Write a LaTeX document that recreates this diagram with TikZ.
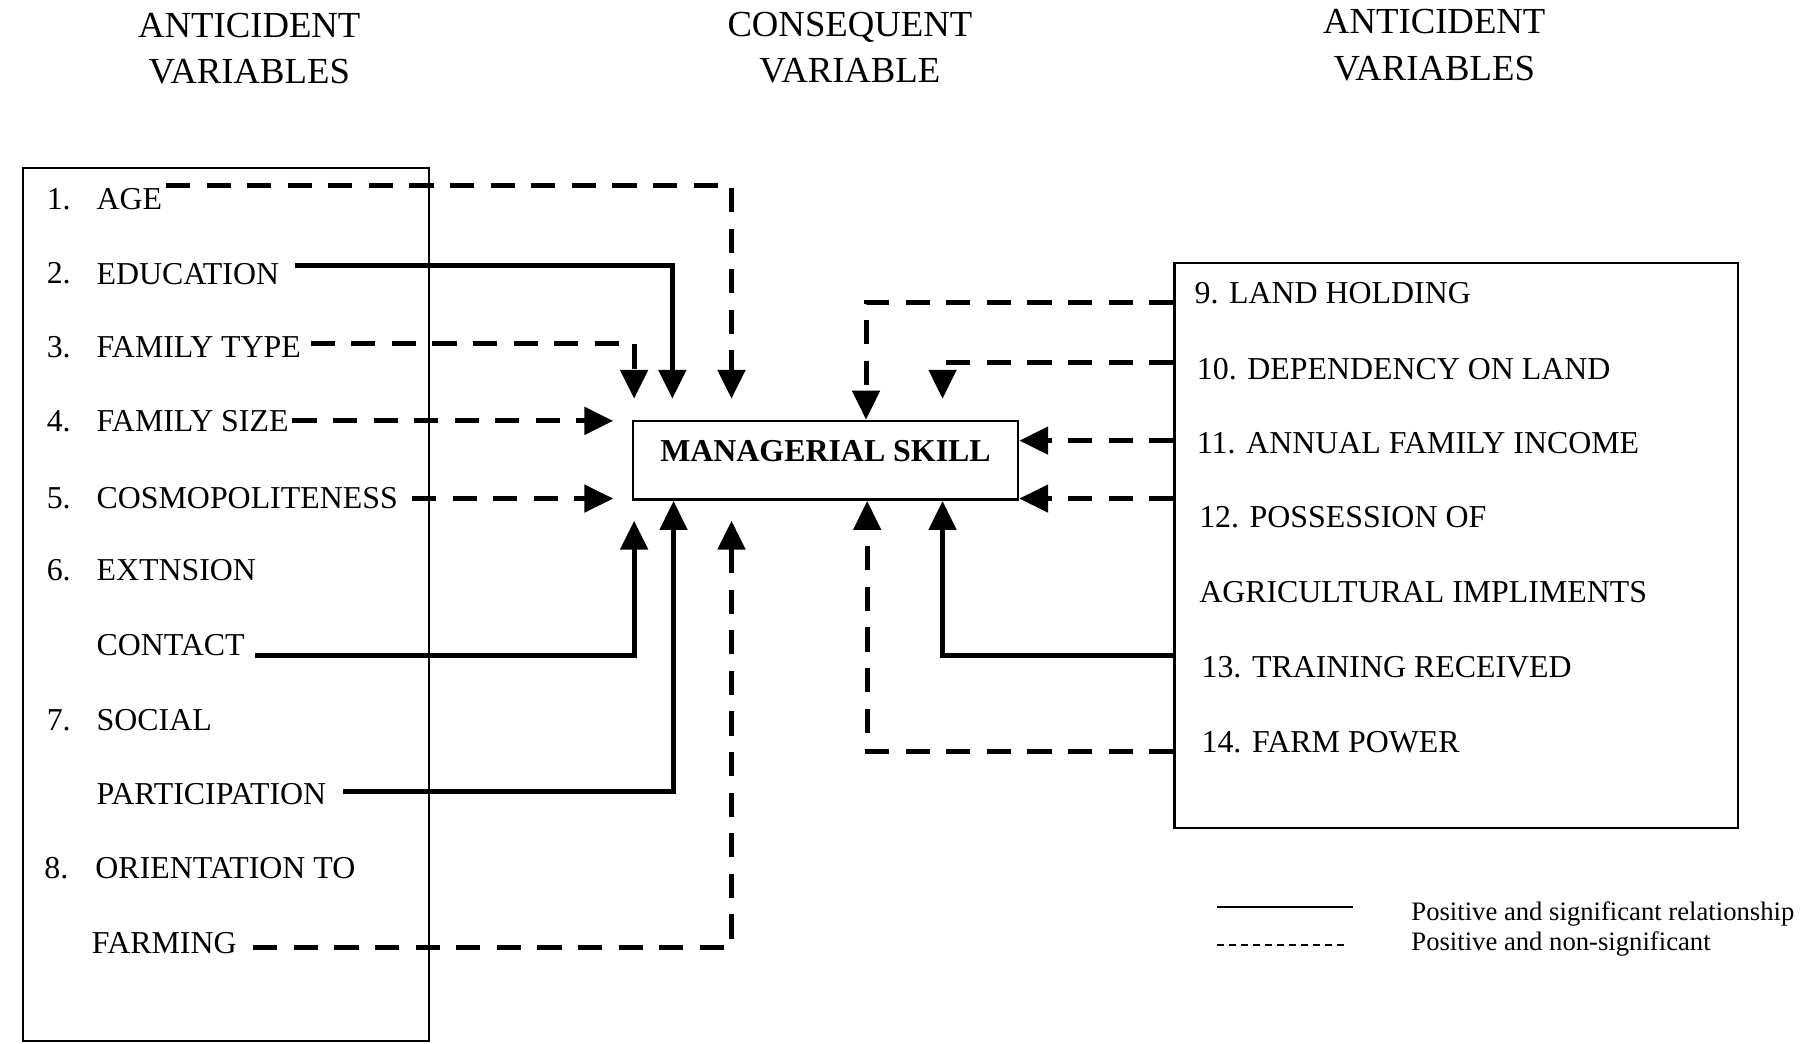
\documentclass[tikz,border=0pt]{standalone}
\usepackage{fontspec}
\setmainfont{Liberation Serif}
\usetikzlibrary{arrows.meta,calc}

\tikzset{
  item/.style={anchor=west, inner sep=0pt, font=\fontsize{16.5}{20}\selectfont},
  heading/.style={align=center, inner sep=0pt, font=\fontsize{19}{24}\selectfont},
  legendtext/.style={anchor=west, inner sep=0pt, font=\fontsize{13.8}{16}\selectfont},
  panel/.style={draw, line width=1pt, inner sep=0pt},
  skillbox/.style={draw, line width=1.3pt, minimum width=199.2pt, minimum height=40.8pt,
    text height=11pt, text depth=9.6pt, font=\bfseries\fontsize{16.5}{20}\selectfont},
  sig/.style={line width=2.6pt, -{Triangle[length=15pt,width=14pt]}},
  nonsig/.style={sig, dash pattern=on 12.5pt off 8.5pt},
}

\begin{document}
\begin{tikzpicture}[x=0.6pt, y=-0.6pt]
      \useasboundingbox (0,0) rectangle (1568,900);

      % headings
      \node[heading] (hleft) at (215,42) {ANTICIDENT\\VARIABLES};
      \node[heading] (hmid) at (733,41) {CONSEQUENT\\VARIABLE};
      \node[heading] (hright) at (1237,39) {ANTICIDENT\\VARIABLES};

      % panels
      \node[
        panel,
        minimum width=210pt,
        minimum height=451.8pt
        ] (lpanel) at (195,521.5) {};

      \node[
        panel,
        line width=1.3pt,
        minimum width=291.6pt,
        minimum height=292.2pt
        ] (rpanel) at (1256,470.5) {};

      \node[skillbox] (ms) at (712,397) {MANAGERIAL SKILL};

      % left variables
      \node[item] (n1) at (40,172) {1.};
      \node[item] (age) at (83,172) {AGE};
      \node[item] (n2) at (40,236) {2.};
      \node[item] (edu) at (83,236) {EDUCATION};
      \node[item] (n3) at (40,299) {3.};
      \node[item] (ftype) at (83,299) {FAMILY TYPE};
      \node[item] (n4) at (40,363) {4.};
      \node[item] (fsize) at (83,363) {FAMILY SIZE};
      \node[item] (n5) at (40,430) {5.};
      \node[item] (cosmo) at (83,430) {COSMOPOLITENESS};
      \node[item] (n6) at (40,492) {6.};
      \node[item] (extn) at (83,492) {EXTNSION};
      \node[item] (contact) at (83,556) {CONTACT};
      \node[item] (n7) at (40,621) {7.};
      \node[item] (social) at (83,621) {SOCIAL};
      \node[item] (partic) at (83,685) {PARTICIPATION};
      \node[item] (n8) at (38,749) {8.};
      \node[item] (orient) at (82,749) {ORIENTATION TO};
      \node[item] (farming) at (79,813) {FARMING};

      % right variables
      \node[item] (land) at (1030,253) {9. LAND HOLDING};
      \node[item] (dep) at (1032,318) {10. DEPENDENCY ON LAND};
      \node[item] (inc) at (1032,382) {11. ANNUAL FAMILY INCOME};
      \node[item] (poss) at (1034,446) {12. POSSESSION OF};
      \node[item] (agri) at (1034,511) {AGRICULTURAL IMPLIMENTS};
      \node[item] (train) at (1036,575) {13. TRAINING RECEIVED};
      \node[item] (fpow) at (1036,640) {14. FARM POWER};

      % left links
      \draw[nonsig] ($(age.east)+(3,-12)$) -| ($(ms.north west)+(86,-18)$);
      \draw[sig] ($(edu.east)+(13,-7)$) -| ($(ms.north west)+(35,-18)$);
      \draw[nonsig] ($(ftype.east)+(8,-3)$) -| ($(ms.north west)+(2,-18)$);
      \draw[nonsig] ($(fsize.east)+(3,0)$) -- ($(fsize.east -| ms.west)+(-16,0)$);
      \draw[nonsig] ($(cosmo.east)+(12,0)$) -- ($(cosmo.east -| ms.west)+(-16,0)$);
      \draw[sig] ($(contact.east)+(9,9)$) -| ($(ms.south west)+(2,17)$);
      \draw[sig] ($(partic.east)+(14,-2)$) -| ($(ms.south west)+(36,0)$);
      \draw[nonsig] ($(farming.east)+(14,4)$) -| ($(ms.south west)+(86,17)$);

      % right links
      \draw[nonsig] ($(rpanel.west |- land.west)+(0,8)$) -| ($(ms.north west)+(202,0)$);
      \draw[nonsig] ($(rpanel.west |- dep.west)+(0,-5)$) -| ($(ms.north west)+(268,-18)$);
      \draw[nonsig] ($(rpanel.west |- inc.west)+(0,-2)$) -- ($(inc.west -| ms.east)+(0,-2)$);
      \draw[nonsig] ($(rpanel.west |- poss.west)+(0,-16)$) -- ($(poss.west -| ms.east)+(0,-16)$);
      \draw[sig] ($(rpanel.west |- train.west)+(0,-10)$) -| ($(ms.south west)+(268,0)$);
      \draw[nonsig] ($(rpanel.west |- fpow.west)+(0,8)$) -| ($(ms.south west)+(203,0)$);

      % legend
      \node[legendtext] (lsig) at (1217,788) {Positive and significant relationship};
      \node[legendtext] (lnon) at (1217,814) {Positive and non-significant};
      \draw[line width=1pt] ($(lsig.west)+(-167,-6)$) -- ++(117,0);
      \draw[line width=1pt, dash pattern=on 3.6pt off 2.6pt] ($(lnon.west)+(-167,1)$) -- ++(112,0);
\end{tikzpicture}
\end{document}
